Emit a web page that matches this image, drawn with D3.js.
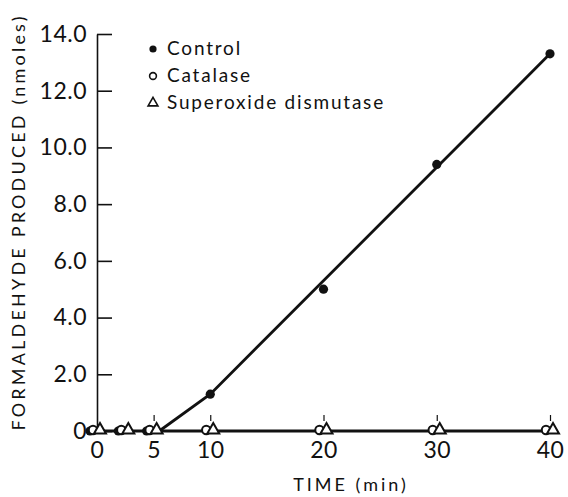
<!DOCTYPE html>
<html>
<head>
<meta charset="utf-8">
<script src="https://cdn.jsdelivr.net/npm/d3@7"></script>
<style>
  body { margin: 0; background: #fff; }
  svg text { font-family: Lato, "Open Sans", sans-serif; font-weight: 400; fill: #111; }
</style>
</head>
<body>
<svg id="chart" width="568" height="497"></svg>
<script>
// data
const times = [0, 2.5, 5, 10, 20, 30, 40];
const control = [0, 0, 0, 1.3, 5.0, 9.4, 13.3];
const catalase = [0, 0, 0, 0, 0, 0, 0];
const sod = [0, 0, 0, 0, 0, 0, 0];
// hand-drawn line through the control points
const controlFitT = [5.5, 10, 40];
const controlFitV = [0, 1.3, 13.3];

const xTicks = [0, 5, 10, 20, 30, 40];
const yTicks = [0, 2, 4, 6, 8, 10, 12, 14];
const legendLabels = ['Control', 'Catalase', 'Superoxide dismutase'];

const width = 568, height = 497;
const svg = d3.select('#chart');

const x = d3.scaleLinear().domain([0, 40]).range([97, 550]);
const y = d3.scaleLinear().domain([0, 14]).range([431, 34]);

// y axis, ticks pointing inward
const yAxis = d3.axisLeft(y)
  .tickValues(yTicks)
  .tickSizeInner(-15)
  .tickSizeOuter(0)
  .tickPadding(10)
  .tickFormat(d => d === 0 ? '0' : d.toFixed(1));

const gy = svg.append('g')
  .attr('transform', `translate(${x(0)},0)`)
  .call(yAxis);
gy.select('.domain').attr('stroke', '#111').attr('stroke-width', 1.6);
gy.selectAll('.tick line').attr('stroke', '#111').attr('stroke-width', 1.6);
gy.selectAll('.tick text').attr('font-size', 23).attr('font-family', null).attr('letter-spacing', 0.5);

// x axis: labels only, little ticks floating above the markers
const xAxis = d3.axisBottom(x)
  .tickValues(xTicks)
  .tickSize(0)
  .tickPadding(11);

const gx = svg.append('g')
  .attr('transform', `translate(0,${y(0)})`)
  .call(xAxis);
gx.select('.domain').remove();
gx.selectAll('.tick text').attr('font-size', 23).attr('font-family', null).attr('letter-spacing', 0.5);
gx.selectAll('.tick')
  .filter(d => d > 0)
  .append('line')
  .attr('y1', -16)
  .attr('y2', -10)
  .attr('stroke', '#111')
  .attr('stroke-width', 1.2);

// axis titles
svg.append('text')
  .attr('transform', `translate(25,${(15 + 432) / 2}) rotate(-90)`)
  .attr('text-anchor', 'middle')
  .attr('font-size', 18)
  .attr('textLength', 414)
  .attr('lengthAdjust', 'spacing')
  .text('FORMALDEHYDE PRODUCED (nmoles)');

svg.append('text')
  .attr('x', 351)
  .attr('y', 491)
  .attr('text-anchor', 'middle')
  .attr('font-size', 18)
  .attr('letter-spacing', 3)
  .text('TIME (min)');

// lines
const line = d3.line()
  .x(d => x(d[0]))
  .y(d => y(d[1]));

svg.append('path')
  .datum(times.map((t, i) => [t, catalase[i]]))
  .attr('d', line)
  .attr('fill', 'none')
  .attr('stroke', '#111')
  .attr('stroke-width', 2.8);

svg.append('path')
  .datum(controlFitT.map((t, i) => [t, controlFitV[i]]))
  .attr('d', line)
  .attr('fill', 'none')
  .attr('stroke', '#111')
  .attr('stroke-width', 2.8);

// markers
const triangle = d3.symbol().type(d3.symbolTriangle).size(62);

svg.selectAll('.ctl')
  .data(times.map((t, i) => [t, control[i]]))
  .enter()
  .append('circle')
  .attr('cx', d => x(d[0]) - (d[1] === 0 ? 7 : 0))
  .attr('cy', d => y(d[1]))
  .attr('r', 4.6)
  .attr('fill', '#111');

svg.selectAll('.cat')
  .data(times.map((t, i) => [t, catalase[i]]))
  .enter()
  .append('circle')
  .attr('cx', d => x(d[0]) - 4)
  .attr('cy', d => y(d[1]) - 1)
  .attr('r', 4.2)
  .attr('fill', '#fff')
  .attr('stroke', '#111')
  .attr('stroke-width', 2);

svg.selectAll('.sod')
  .data(times.map((t, i) => [t, sod[i]]))
  .enter()
  .append('path')
  .attr('d', triangle)
  .attr('transform', d => `translate(${x(d[0]) + 3},${y(d[1]) - 1})`)
  .attr('fill', '#fff')
  .attr('stroke', '#111')
  .attr('stroke-width', 2);

// legend
const legend = svg.append('g').attr('transform', 'translate(153,49)');
const rowH = 27;

legend.append('circle').attr('cx', 0).attr('cy', 0).attr('r', 3.6).attr('fill', '#111');
legend.append('circle').attr('cx', 0).attr('cy', rowH).attr('r', 3.4)
  .attr('fill', '#fff').attr('stroke', '#111').attr('stroke-width', 1.6);
legend.append('path').attr('d', d3.symbol().type(d3.symbolTriangle).size(42))
  .attr('transform', `translate(0,${2 * rowH})`)
  .attr('fill', '#fff').attr('stroke', '#111').attr('stroke-width', 1.6);

legend.selectAll('.lab')
  .data(legendLabels)
  .enter()
  .append('text')
  .attr('x', 14)
  .attr('y', (d, i) => i * rowH + 6)
  .attr('font-size', 19)
  .attr('letter-spacing', 1.8)
  .text(d => d);
</script>
</body>
</html>
